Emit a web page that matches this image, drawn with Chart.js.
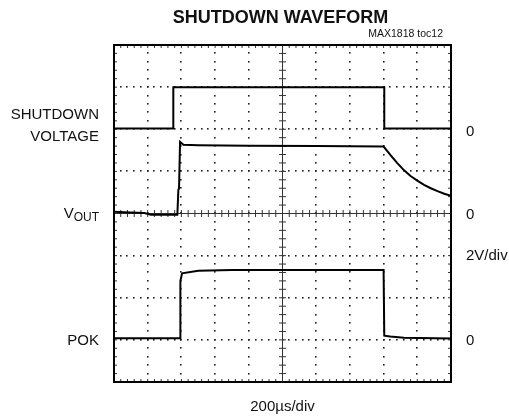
<!DOCTYPE html>
<html>
<head>
<meta charset="utf-8">
<script src="https://cdn.jsdelivr.net/npm/chart.js@4.4.1/dist/chart.umd.min.js"></script>
<style>
    body { margin: 0; background: #fff; }
    #wrap { position: relative; width: 509px; height: 417px; font-family: "Liberation Sans", Arial, sans-serif; color: #111; }
    #wrap canvas { position: absolute; left: 0; top: 0; }
    .lbl { position: absolute; white-space: nowrap; font-size: 15px; line-height: 1; }
    .r { text-align: right; }
</style>
</head>
<body>
<div id="wrap">
    <canvas id="scope" width="509" height="417"></canvas>
    <div class="lbl" style="left:0;width:509px;top:8px;text-align:center;font-weight:bold;font-size:18px;padding-left:52px;box-sizing:border-box;">SHUTDOWN WAVEFORM</div>
    <div class="lbl r" style="right:66px;top:28px;font-size:10.5px;">MAX1818 toc12</div>
    <div class="lbl r" style="right:410px;top:106px;">SHUTDOWN</div>
    <div class="lbl r" style="right:410px;top:128px;">VOLTAGE</div>
    <div class="lbl r" style="right:410px;top:205px;">V<span style="font-size:12px;position:relative;top:3px;">OUT</span></div>
    <div class="lbl r" style="right:410px;top:332px;">POK</div>
    <div class="lbl" style="left:466px;top:123px;">0</div>
    <div class="lbl" style="left:466px;top:206px;">0</div>
    <div class="lbl" style="left:466px;top:247px;">2V/div</div>
    <div class="lbl" style="left:466px;top:332px;">0</div>
    <div class="lbl" style="left:0;width:509px;top:398px;text-align:center;padding-left:56px;box-sizing:border-box;">200µs/div</div>
</div>
<script>
(() => {
    // time in divisions (200us/div), amplitude in divisions from screen centre
    const shutdownX = [0, 1.76, 1.76, 8.02, 8.02, 10];
    const shutdownY = [2.02, 2.02, 3.0, 3.0, 2.02, 2.02];

    const voutX = [0, 0.3, 0.9, 1.1, 1.88, 1.91, 1.93, 1.96, 2.06, 2.5, 4.0, 6.0, 8.0, 8.2, 8.4, 8.6, 8.8, 9.0, 9.2, 9.4, 9.6, 9.8, 10];
    const voutY = [0.04, 0.03, 0.01, -0.03, -0.03, 0.56, 0.6, 1.70, 1.63, 1.62, 1.61, 1.60, 1.59, 1.39, 1.20, 1.03, 0.89, 0.78, 0.68, 0.60, 0.53, 0.47, 0.42];

    const pokX = [0, 1.96, 1.97, 2.02, 2.5, 3.5, 8.0, 8.02, 8.2, 8.6, 10];
    const pokY = [-2.96, -2.96, -1.6, -1.42, -1.36, -1.34, -1.34, -2.90, -2.92, -2.95, -2.97];

    const xDivs = 10;
    const yDivs = [-4, 4];

    const toPoints = (xs, ys) => xs.map((x, i) => ({ x, y: ys[i] }));

    const trace = (label, xs, ys) => ({
        label,
        data: toPoints(xs, ys),
        borderColor: '#000',
        borderWidth: 2,
        pointRadius: 0,
        tension: 0,
        fill: false,
    });

    const graticule = {
        id: 'graticule',
        beforeDatasetsDraw(chart) {
            const { ctx, chartArea: a, scales: { x, y } } = chart;
            ctx.save();
            ctx.fillStyle = '#222';
            // dotted division lines
            for (let i = 1; i < xDivs; i++) {
                if (i === 5) continue;
                const px = x.getPixelForValue(i);
                for (let v = yDivs[0]; v <= yDivs[1] + 1e-6; v += 0.2) {
                    ctx.fillRect(Math.round(px) - 1, Math.round(y.getPixelForValue(v)) - 1, 1.6, 1.6);
                }
            }
            for (let j = yDivs[0] + 1; j < yDivs[1]; j++) {
                if (j === 0) continue;
                const py = y.getPixelForValue(j);
                for (let v = 0; v <= xDivs + 1e-6; v += 0.2) {
                    ctx.fillRect(Math.round(x.getPixelForValue(v)) - 1, Math.round(py) - 1, 1.6, 1.6);
                }
            }
            // centre cross with minor ticks
            const cx = x.getPixelForValue(5);
            const cy = y.getPixelForValue(0);
            ctx.strokeStyle = '#333';
            ctx.lineWidth = 1;
            ctx.beginPath();
            ctx.moveTo(a.left, cy);
            ctx.lineTo(a.right, cy);
            ctx.moveTo(cx, a.top);
            ctx.lineTo(cx, a.bottom);
            for (let v = 0; v <= xDivs + 1e-6; v += 0.2) {
                const px = x.getPixelForValue(v);
                ctx.moveTo(px, cy - 3.5);
                ctx.lineTo(px, cy + 3.5);
                ctx.moveTo(px, a.top);
                ctx.lineTo(px, a.top + 3);
                ctx.moveTo(px, a.bottom);
                ctx.lineTo(px, a.bottom - 3);
            }
            for (let v = yDivs[0]; v <= yDivs[1] + 1e-6; v += 0.2) {
                const py = y.getPixelForValue(v);
                ctx.moveTo(cx - 3.5, py);
                ctx.lineTo(cx + 3.5, py);
                ctx.moveTo(a.left, py);
                ctx.lineTo(a.left + 3, py);
                ctx.moveTo(a.right, py);
                ctx.lineTo(a.right - 3, py);
            }
            ctx.stroke();
            // frame
            ctx.strokeStyle = '#000';
            ctx.lineWidth = 2;
            ctx.strokeRect(a.left, a.top, a.right - a.left, a.bottom - a.top);
            ctx.restore();
        },
    };

    new Chart(document.getElementById('scope'), {
        type: 'line',
        data: {
            datasets: [
                trace('Shutdown', shutdownX, shutdownY),
                trace('VOUT', voutX, voutY),
                trace('POK', pokX, pokY),
            ],
        },
        options: {
            responsive: false,
            animation: false,
            layout: { padding: { left: 114, right: 58, top: 45, bottom: 35 } },
            plugins: { legend: { display: false }, tooltip: { enabled: false } },
            scales: {
                x: { type: 'linear', min: 0, max: xDivs, display: false },
                y: { type: 'linear', min: yDivs[0], max: yDivs[1], display: false },
            },
        },
        plugins: [graticule],
    });
})();
</script>
</body>
</html>
